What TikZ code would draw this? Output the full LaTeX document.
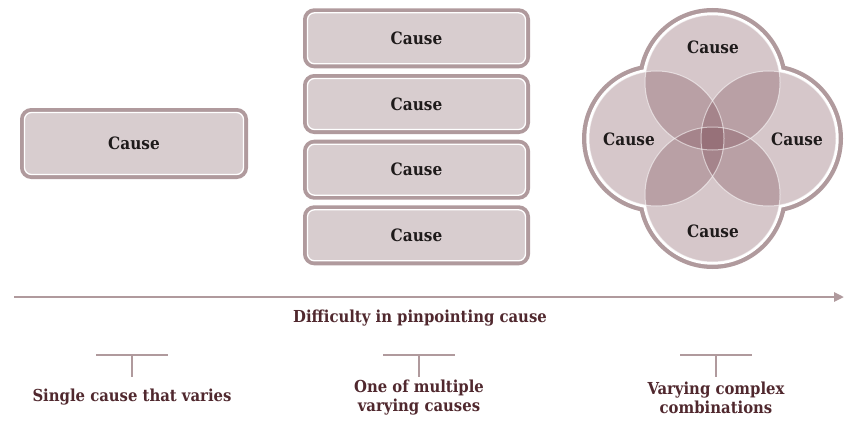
\documentclass[tikz,border=0pt]{standalone}
\usepackage{fontspec}
\setmainfont{DejaVu Serif Condensed}
\usetikzlibrary{arrows.meta}
\definecolor{mauve}{RGB}{176,154,157}
\definecolor{boxfill}{RGB}{216,205,207}
\definecolor{vennfill}{RGB}{120,70,80}
\definecolor{labelred}{RGB}{80,40,46}
\definecolor{causetext}{RGB}{30,26,26}
\tikzset{
  causebox/.style={rounded corners=7pt, fill=boxfill, draw=white, line width=1.3pt,
    preaction={draw=mauve, line width=9pt},
    font=\bfseries\fontsize{17}{19}\selectfont, text=causetext},
  causelbl/.style={font=\bfseries\fontsize{17}{19}\selectfont, text=causetext},
  scalelbl/.style={font=\bfseries\fontsize{16.5}{19}\selectfont, text=labelred, align=center},
  tick/.style={draw=mauve, line width=2.2pt},
}
\begin{document}
\begin{tikzpicture}[x=1pt,y=-1pt]
\useasboundingbox (0,0) rectangle (848,428);
% single cause
\node[causebox, minimum width=219pt, minimum height=62pt] (single) at (134,143.5) {Cause};
% stacked causes
\foreach \i/\y in {1/38.3,2/104,3/169.7,4/235.3}{
  \node[causebox, minimum width=218pt, minimum height=51pt] (stack\i) at (416.5,\y) {Cause};
}
% overlapping causes: mauve rim, white gap, translucent discs
\coordinate (vc) at (712.5,138.5);
\foreach \dx/\dy in {0/-56,0/56,-56/0,56/0}{
  \fill[mauve] ([shift={(\dx,\dy)}]vc) circle (74.5pt);
}
\foreach \dx/\dy in {0/-56,0/56,-56/0,56/0}{
  \fill[white] ([shift={(\dx,\dy)}]vc) circle (70.2pt);
}
\foreach \dx/\dy in {0/-56,0/56,-56/0,56/0}{
  \fill[vennfill, fill opacity=0.3] ([shift={(\dx,\dy)}]vc) circle (67.5pt);
}
\foreach \dx/\dy in {0/-56,0/56,-56/0,56/0}{
  \draw[white, draw opacity=0.55, line width=1pt] ([shift={(\dx,\dy)}]vc) circle (67.5pt);
}
\node[causelbl] (vtop) at (713,47) {Cause};
\node[causelbl] (vleft) at (629,139) {Cause};
\node[causelbl] (vright) at (797,139) {Cause};
\node[causelbl] (vbottom) at (713,231) {Cause};
% difficulty axis
\coordinate (axstart) at (14,297);
\coordinate (axend) at (844,297);
\draw[mauve, line width=2.6pt, -{Triangle[length=10pt,width=9pt]}] (axstart) -- (axend);
\node[scalelbl] (axlbl) at (420,318) {Difficulty in pinpointing cause};
% scale marks
\foreach \n/\x in {a/132,b/419,c/716}{
  \coordinate (bar\n l) at (\x-36,355);
  \coordinate (bar\n r) at (\x+36,355);
  \coordinate (bar\n t) at (\x,355);
  \coordinate (bar\n b) at (\x,377);
  \draw[tick] (bar\n l) -- (bar\n r);
  \draw[tick] (bar\n t) -- (bar\n b);
}
\node[scalelbl] (lbla) at (132,397) {Single cause that varies};
\node[scalelbl] (lblb) at (419,398) {One of multiple\\varying causes};
\node[scalelbl] (lblc) at (716,398) {Varying complex\\combinations};
\end{tikzpicture}
\end{document}
